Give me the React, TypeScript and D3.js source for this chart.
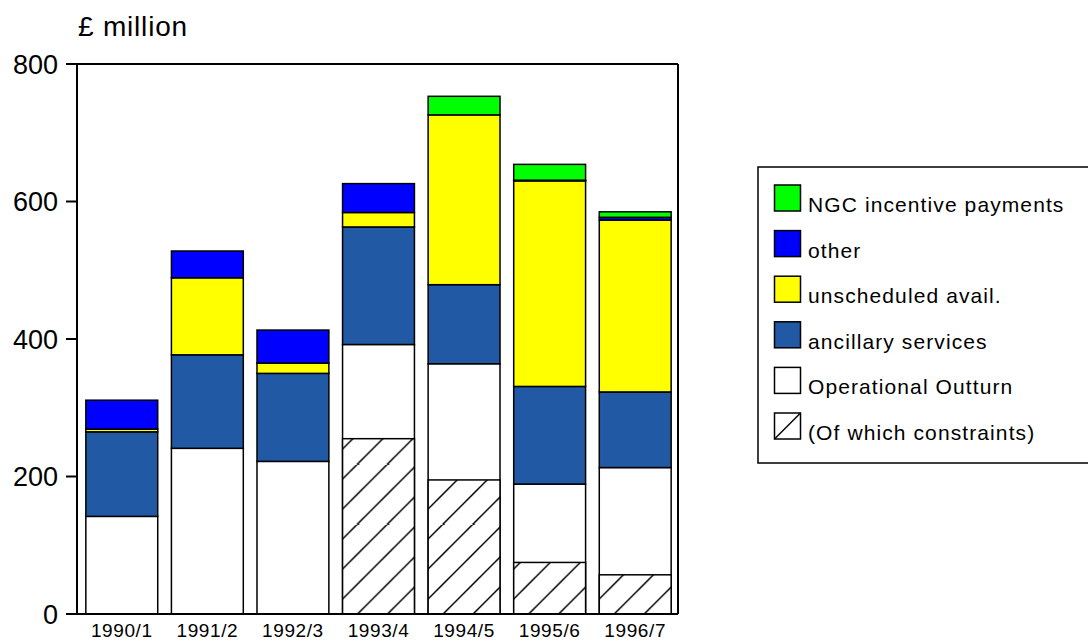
import React from 'react';
import * as d3 from 'd3';

// Balancing services costs by year, £ million
const years = ['1990/1', '1991/2', '1992/3', '1993/4', '1994/5', '1995/6', '1996/7'];
const operationalOutturn = [142, 241, 222, 392, 364, 189, 213];
const ancillaryServices = [123, 136, 128, 171, 115, 142, 110];
const unscheduledAvail = [4, 112, 15, 21, 247, 299, 250];
const otherCosts = [42, 39, 48, 42, 0, 1, 4];
const ngcIncentive = [0, 0, 0, 0, 27, 23, 8];
const constraints = [0, 0, 0, 255, 195, 75, 57];
const yTicks = [0, 200, 400, 600, 800];

const seriesKeys = ['outturn', 'ancillary', 'unscheduled', 'other', 'ngc'];
const seriesColors: Record<string, string> = {
  outturn: '#ffffff',
  ancillary: '#2159a5',
  unscheduled: '#ffff00',
  other: '#0000ff',
  ngc: '#00ff00',
};

const legendItems = [
  { label: 'NGC incentive payments', fill: '#00ff00', hatch: false },
  { label: 'other', fill: '#0000ff', hatch: false },
  { label: 'unscheduled avail.', fill: '#ffff00', hatch: false },
  { label: 'ancillary services', fill: '#2159a5', hatch: false },
  { label: 'Operational Outturn', fill: '#ffffff', hatch: false },
  { label: '(Of which constraints)', fill: '#ffffff', hatch: true },
];

const FONT = 'Liberation Sans, Arial, Helvetica, sans-serif';

export default function App() {
  const width = 1088;
  const height = 641;
  const plotLeft = 77;
  const plotRight = 678;
  const plotTop = 64;
  const plotBottom = 614;

  const x = d3.scaleBand<string>().domain(years).range([79, plotRight]).paddingInner(0.16).paddingOuter(0.08);
  const y = d3.scaleLinear().domain([0, 800]).range([plotBottom, plotTop]);

  const rows = years.map((yr, i) => ({
    year: yr,
    outturn: operationalOutturn[i],
    ancillary: ancillaryServices[i],
    unscheduled: unscheduledAvail[i],
    other: otherCosts[i],
    ngc: ngcIncentive[i],
  }));
  const stacked = d3.stack<any>().keys(seriesKeys)(rows);

  const bw = x.bandwidth();
  const hatchStep = 30;

  return (
    <svg width={width} height={height} style={{ position: 'absolute', left: 0, top: 0, background: '#fff' }}>
      <defs>
        {years.map((yr, i) => (
          <pattern
            key={yr}
            id={`hatch-${i}`}
            patternUnits="userSpaceOnUse"
            x={x(yr)}
            y={y(0)}
            width={hatchStep}
            height={hatchStep}
          >
            <rect width={hatchStep} height={hatchStep} fill="#fff" />
            <line x1={-1} y1={hatchStep / 2 + 1} x2={hatchStep / 2 + 1} y2={-1} stroke="#000" strokeWidth={1.5} />
            <line x1={hatchStep / 2 - 1} y1={hatchStep + 1} x2={hatchStep + 1} y2={hatchStep / 2 - 1} stroke="#000" strokeWidth={1.5} />
          </pattern>
        ))}
      </defs>

      {/* unit title */}
      <text x={78} y={36} fontFamily={FONT} fontSize={28} letterSpacing={0.8} fill="#000">
        £ million
      </text>

      {/* stacked bars */}
      {stacked.map((layer) =>
        layer.map((d, i) => {
          const h = y(d[0]) - y(d[1]);
          if (h <= 0) return null;
          return (
            <rect
              key={`${layer.key}-${i}`}
              x={x(years[i])}
              y={y(d[1])}
              width={bw}
              height={h}
              fill={seriesColors[layer.key as string]}
              stroke="#000"
              strokeWidth={1.5}
            />
          );
        })
      )}

      {/* constraints portion of operational outturn */}
      {constraints.map((v, i) =>
        v > 0 ? (
          <rect
            key={`c-${i}`}
            x={x(years[i])}
            y={y(v)}
            width={bw}
            height={y(0) - y(v)}
            fill={`url(#hatch-${i})`}
            stroke="#000"
            strokeWidth={1.5}
          />
        ) : null
      )}

      {/* frame and axis */}
      <line x1={plotLeft} y1={plotTop} x2={plotRight} y2={plotTop} stroke="#000" strokeWidth={2} />
      <line x1={plotRight} y1={plotTop} x2={plotRight} y2={plotBottom} stroke="#000" strokeWidth={2} />
      <line x1={plotLeft} y1={plotTop} x2={plotLeft} y2={plotBottom} stroke="#000" strokeWidth={2} />
      <line x1={66} y1={plotBottom} x2={plotRight} y2={plotBottom} stroke="#000" strokeWidth={2} />
      {yTicks.map((t) => (
        <g key={t}>
          <line x1={66} y1={y(t)} x2={plotLeft} y2={y(t)} stroke="#000" strokeWidth={2} />
          <text
            x={58}
            y={y(t)}
            dy="0.36em"
            textAnchor="end"
            fontFamily={FONT}
            fontSize={27}
            fill="#000"
          >
            {t}
          </text>
        </g>
      ))}
      {years.map((yr) => (
        <text
          key={yr}
          x={(x(yr) as number) + bw / 2}
          y={637}
          textAnchor="middle"
          fontFamily={FONT}
          fontSize={19}
          letterSpacing={0.6}
          fill="#000"
        >
          {yr}
        </text>
      ))}

      {/* legend */}
      <rect x={758} y={167} width={340} height={296} fill="#fff" stroke="#000" strokeWidth={1.5} />
      {legendItems.map((item, i) => {
        const top = 185 + i * 45.6;
        return (
          <g key={item.label}>
            <rect x={774.5} y={top} width={26} height={26} fill={item.fill} stroke="#000" strokeWidth={1.5} />
            {item.hatch && (
              <line x1={774.5} y1={top + 26} x2={800.5} y2={top} stroke="#000" strokeWidth={1.5} />
            )}
            <text
              x={808}
              y={top + 27}
              fontFamily={FONT}
              fontSize={21}
              letterSpacing={1.1}
              fill="#000"
            >
              {item.label}
            </text>
          </g>
        );
      })}
    </svg>
  );
}
